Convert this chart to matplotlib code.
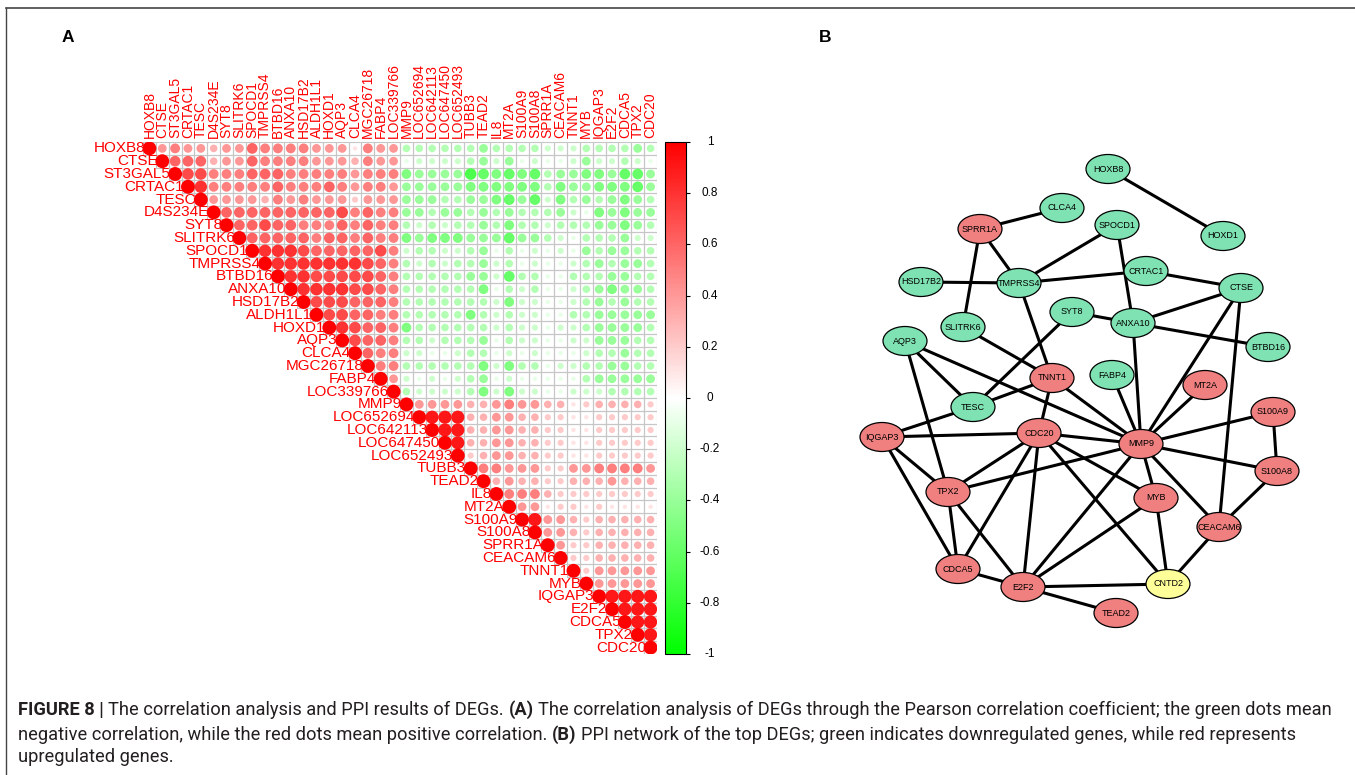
import numpy as np
import matplotlib
matplotlib.use("Agg")
import matplotlib.pyplot as plt
from matplotlib import font_manager
from matplotlib.colors import LinearSegmentedColormap, Normalize
from matplotlib.patches import Rectangle, Ellipse
from matplotlib.collections import PatchCollection
from matplotlib.lines import Line2D
from matplotlib.transforms import blended_transform_factory

W, H = 1355, 775

# ---------------- data: panel A (Pearson r, in tenths, upper triangle incl. diagonal)
genes = ["HOXB8", "CTSE", "ST3GAL5", "CRTAC1", "TESC", "D4S234E", "SYT8", "SLITRK6",
         "SPOCD1", "TMPRSS4", "BTBD16", "ANXA10", "HSD17B2", "ALDH1L1", "HOXD1", "AQP3",
         "CLCA4", "MGC26718", "FABP4", "LOC339766", "MMP9", "LOC652694", "LOC642113",
         "LOC647450", "LOC652493", "TUBB3", "TEAD2", "IL8", "MT2A", "S100A9", "S100A8",
         "SPRR1A", "CEACAM6", "TNNT1", "MYB", "IQGAP3", "E2F2", "CDCA5", "TPX2", "CDC20"]

# row i holds r(i, j) for j = i..39
corr_rows = [
    [10, 4, 5, 4, 4, 3, 4, 4, 6, 5, 5, 5, 5, 4, 4, 4, 1, 5, 4, 4,
     -3, -3, -3, -3, -3, -3, -4, -3, -3, -3, -3, -2, -2, -2, -3, -3, -3, -3, -4, -3],
    [10, 6, 6, 6, 3, 4, 4, 6, 5, 5, 5, 5, 4, 4, 4, 3, 5, 4, 4,
     -1, -2, -2, -2, -2, -3, -4, -2, -4, -1, -2, -1, -1, -2, -4, -2, -2, -3, -2, -1],
    [10, 7, 7, 5, 5, 5, 6, 6, 6, 5, 5, 5, 5, 5, 4, 5, 5, 5,
     -5, -4, -4, -4, -4, -7, -6, -5, -6, -5, -6, -3, -4, -4, -5, -5, -4, -6, -6, -4],
    [10, 8, 5, 5, 5, 5, 5, 6, 5, 5, 5, 6, 5, 4, 5, 5, 4,
     -4, -4, -4, -4, -4, -5, -5, -5, -5, -5, -5, -3, -5, -4, -4, -5, -5, -5, -6, -4],
    [10, 4, 4, 4, 4, 3, 5, 4, 5, 4, 4, 4, 2, 4, 4, 4,
     -4, -4, -4, -3, -3, -4, -4, -5, -6, -4, -6, -2, -5, -3, -4, -3, -4, -5, -4, -3],
    [10, 6, 6, 6, 6, 6, 6, 6, 6, 6, 7, 5, 6, 5, 5,
     -4, -4, -3, -4, -4, -3, -4, -3, -4, -3, -3, -3, -4, -2, -1, -5, -4, -5, -4, -4],
    [10, 6, 6, 7, 6, 6, 5, 5, 5, 6, 5, 6, 5, 5,
     -3, -2, -3, -2, -3, -3, -4, -3, -5, -3, -3, -2, -3, -3, -3, -4, -4, -5, -4, -3],
    [10, 6, 6, 6, 6, 6, 5, 6, 6, 5, 6, 5, 5,
     -5, -4, -5, -5, -5, -4, -4, -4, -6, -4, -4, -3, -2, -1, -3, -3, -3, -4, -2, -2],
    [10, 8, 8, 8, 7, 6, 6, 6, 6, 6, 7, 5,
     -2, -3, -3, -2, -2, -3, -4, -1, -3, -1, -2, -1, -2, -1, -4, -3, -4, -4, -3, -3],
    [10, 8, 8, 8, 8, 8, 8, 8, 7, 6, 5,
     -3, -2, -3, -2, -3, -3, -4, -2, -3, -1, -2, -1, -1, -2, -3, -4, -3, -4, -4, -3],
    [10, 8, 8, 7, 7, 7, 7, 7, 6, 5,
     -3, -3, -3, -3, -3, -4, -4, -2, -6, -3, -3, -1, -1, -3, -3, -3, -4, -4, -3, -3],
    [10, 8, 8, 8, 8, 7, 7, 6, 5,
     -3, -3, -3, -3, -3, -3, -5, -1, -3, -2, -3, -1, -1, -2, -3, -4, -5, -4, -4, -3],
    [10, 7, 7, 7, 6, 6, 6, 5,
     -3, -3, -3, -3, -3, -3, -3, -2, -5, -2, -2, -1, -1, -2, -3, -4, -3, -4, -3, -3],
    [10, 7, 7, 6, 6, 5, 5,
     -3, -3, -3, -3, -3, -5, -3, -2, -3, -2, -2, -1, -1, -3, -3, -4, -4, -4, -4, -4],
    [10, 8, 7, 6, 6, 5,
     -5, -3, -3, -3, -3, -3, -3, -2, -3, -2, -2, -1, -2, -2, -3, -4, -4, -4, -4, -3],
    [10, 7, 6, 6, 5,
     -3, -3, -2, -3, -3, -3, -4, -1, -3, -2, -2, -1, -1, -2, -2, -4, -4, -4, -3, -3],
    [10, 6, 5, 5,
     -2, -2, -1, -1, -2, -3, -3, -1, -2, -1, -2, -1, -1, -1, -2, -3, -3, -4, -3, -3],
    [10, 5, 5,
     -3, -3, -3, -3, -3, -3, -5, -2, -5, -3, -3, -1, -2, -2, -3, -3, -4, -4, -3, -3],
    [10, 4,
     -2, -1, -2, -1, -2, -3, -4, -1, -2, -1, -1, -1, -1, -1, -3, -4, -4, -4, -4, -4],
    [10,
     -3, -2, -2, -2, -2, -3, -5, -2, -5, -2, -2, -1, -1, -2, -2, -2, -3, -3, -3, -3],
    [10, 4, 4, 4, 4, 3, 3, 4, 5, 4, 4, 3, 3, 1, 2, 3, 3, 3, 3, 2],
    [10, 9, 9, 9, 3, 3, 4, 4, 3, 3, 2, 2, 1, 1, 2, 2, 2, 2, 2],
    [10, 9, 9, 3, 3, 4, 4, 3, 3, 2, 2, 1, 1, 2, 2, 2, 2, 2],
    [10, 9, 3, 3, 4, 4, 3, 3, 2, 2, 1, 1, 2, 2, 2, 2, 2],
    [10, 2, 3, 4, 4, 3, 3, 2, 2, 1, 1, 2, 2, 2, 2, 2],
    [10, 5, 5, 4, 4, 4, 2, 2, 4, 4, 5, 5, 5, 5, 4],
    [10, 3, 4, 3, 3, 2, 2, 3, 3, 3, 4, 3, 3, 3],
    [10, 5, 5, 5, 3, 2, 2, 2, 2, 2, 2, 2, 2],
    [10, 4, 4, 1, 2, 2, 1, 2, 1, 1, 1, 1],
    [10, 9, 4, 4, 3, 2, 3, 3, 3, 3, 3],
    [10, 4, 4, 3, 2, 3, 3, 3, 3, 3],
    [10, 4, 2, 2, 3, 3, 3, 3, 3],
    [10, 2, 2, 3, 3, 3, 3, 3],
    [10, 2, 4, 4, 4, 4, 4],
    [10, 4, 4, 4, 4, 4],
    [10, 9, 9, 9, 9],
    [10, 9, 9, 9],
    [10, 9, 9],
    [10, 9],
    [10],
]

cbar_ticks = [1, 0.8, 0.6, 0.4, 0.2, 0, -0.2, -0.4, -0.6, -0.8, -1]

# ---------------- data: panel B (PPI network, layout in picture pixels)
node_names = ["HOXB8", "CLCA4", "SPRR1A", "SPOCD1", "HOXD1", "HSD17B2", "TMPRSS4", "CRTAC1",
              "CTSE", "SYT8", "ANXA10", "SLITRK6", "AQP3", "BTBD16", "FABP4", "TNNT1",
              "MT2A", "TESC", "S100A9", "IQGAP3", "CDC20", "MMP9", "S100A8", "TPX2",
              "MYB", "CEACAM6", "CDCA5", "E2F2", "CNTD2", "TEAD2"]
node_x = [1108, 1062, 980, 1117, 1223, 921, 1019, 1146, 1241, 1072, 1133, 963, 905, 1268,
          1112, 1052, 1205, 973, 1273, 882, 1039, 1141, 1277, 948, 1156, 1219, 958, 1023,
          1168, 1116]
node_y = [169, 208, 229, 225, 236, 282, 283, 271, 288, 312, 323, 327, 341, 347, 375, 378,
          385, 407, 412, 437, 433, 444, 471, 492, 498, 527, 569, 587, 584, 613]
node_group = ["down", "down", "up", "down", "down", "down", "down", "down", "down", "down",
              "down", "down", "down", "down", "down", "up", "up", "down", "up", "up", "up",
              "up", "up", "up", "up", "up", "up", "up", "other", "up"]
edges = [("HOXB8", "HOXD1"), ("SPRR1A", "CLCA4"), ("SPRR1A", "TMPRSS4"), ("SPRR1A", "SLITRK6"),
         ("SPOCD1", "TMPRSS4"), ("SPOCD1", "ANXA10"), ("HSD17B2", "TMPRSS4"),
         ("TMPRSS4", "CRTAC1"), ("TMPRSS4", "TNNT1"), ("CRTAC1", "CTSE"), ("CTSE", "ANXA10"),
         ("CTSE", "MMP9"), ("CTSE", "CEACAM6"), ("SYT8", "ANXA10"), ("SYT8", "TESC"),
         ("ANXA10", "BTBD16"), ("ANXA10", "MMP9"), ("SLITRK6", "TNNT1"), ("AQP3", "TESC"),
         ("AQP3", "MMP9"), ("AQP3", "TPX2"), ("TNNT1", "TESC"), ("TNNT1", "CDC20"),
         ("TNNT1", "MMP9"), ("FABP4", "MMP9"), ("MT2A", "MMP9"), ("TESC", "IQGAP3"),
         ("IQGAP3", "CDC20"), ("IQGAP3", "TPX2"), ("IQGAP3", "CDCA5"), ("CDC20", "MMP9"),
         ("CDC20", "TPX2"), ("CDC20", "CDCA5"), ("CDC20", "E2F2"), ("CDC20", "MYB"),
         ("CDC20", "CNTD2"), ("MMP9", "S100A9"), ("MMP9", "S100A8"), ("MMP9", "TPX2"),
         ("MMP9", "MYB"), ("MMP9", "CEACAM6"), ("MMP9", "E2F2"), ("S100A9", "S100A8"),
         ("S100A8", "CEACAM6"), ("TPX2", "CDCA5"), ("TPX2", "E2F2"), ("MYB", "E2F2"),
         ("MYB", "CNTD2"), ("CEACAM6", "CNTD2"), ("CDCA5", "E2F2"), ("E2F2", "CNTD2"),
         ("E2F2", "TEAD2")]

caption_lines = [
    [("FIGURE 8 |", True), ("The correlation analysis and PPI results of DEGs.", False),
     ("(A)", True), ("The correlation analysis of DEGs through the Pearson correlation "
                     "coefficient; the green dots mean", False)],
    [("negative correlation, while the red dots mean positive correlation.", False),
     ("(B)", True), ("PPI network of the top DEGs; green indicates downregulated genes, "
                     "while red represents", False)],
    [("upregulated genes.", False)],
]

# ---------------- helpers
def fx(px):
    return px / W

def fy(py):
    return 1 - py / H

def pick_font(names):
    for n in names:
        try:
            font_manager.findfont(font_manager.FontProperties(family=n), fallback_to_default=False)
            return n
        except Exception:
            continue
    return "DejaVu Sans"

base_font = pick_font(["Liberation Sans", "Arial", "DejaVu Sans"])
cap_font = pick_font(["Liberation Sans Narrow", "Roboto", "Liberation Sans"])
plt.rcParams["font.family"] = [base_font, "DejaVu Sans"]

fig = plt.figure(figsize=(W / 100, H / 100), dpi=100)
renderer = fig.canvas.get_renderer()

# frame lines (top and left)
fig.add_artist(Line2D([fx(6), 1], [fy(8), fy(8)], color="#444444", lw=1.2))
fig.add_artist(Line2D([fx(6), fx(6)], [fy(8), 0], color="#444444", lw=1.0))

fig.text(fx(68), fy(38), "A", fontsize=12.5, fontweight="bold", ha="center", va="center")
fig.text(fx(825), fy(38), "B", fontsize=12.5, fontweight="bold", ha="center", va="center")

# ---------------- panel A: correlation matrix
n = len(genes)
ax = fig.add_axes([fx(143), fy(654), 514 / W, 512 / H])
ax.set_xlim(0, n)
ax.set_ylim(n, 0)
ax.axis("off")

cmap = LinearSegmentedColormap.from_list("gwr", ["#00FF00", "#FFFFFF", "#FF0000"], N=200)

xs, ys, rs = [], [], []
cells = []
for i, row in enumerate(corr_rows):
    for k, v in enumerate(row):
        j = i + k
        xs.append(j + 0.5)
        ys.append(i + 0.5)
        rs.append(v / 10)
        cells.append(Rectangle((j, i), 1, 1))
rs = np.array(rs)

ax.add_collection(PatchCollection(cells, facecolor="none", edgecolor="#c6c6c6", linewidth=0.8))
ax.scatter(xs, ys, s=np.abs(rs) * 100, c=rs, cmap=cmap, vmin=-1, vmax=1,
           edgecolors="none", zorder=3)

for i, g in enumerate(genes):
    ax.text(i + 0.15, i + 0.5, g, color="red", fontsize=11, ha="right", va="center",
            clip_on=False)
    ax.text(i + 0.5, -0.35, g, color="red", fontsize=10, ha="center", va="bottom",
            rotation=90, clip_on=False)

cax = fig.add_axes([fx(665), fy(654), 21 / W, 512 / H])
sm = plt.cm.ScalarMappable(norm=Normalize(-1, 1), cmap=cmap)
cb = fig.colorbar(sm, cax=cax, ticks=cbar_ticks)
cb.outline.set_linewidth(0.8)
cb.ax.set_yticklabels([])
cb.ax.tick_params(length=3, width=0.8)
lab_tr = blended_transform_factory(cax.transAxes, cax.transData)
for t in cbar_ticks:
    cax.text(45 / 21, t, f"{t:g}", transform=lab_tr, fontsize=8.5, ha="center", va="center")

# ---------------- panel B: PPI network
axn = fig.add_axes([fx(840), fy(640), 480 / W, 500 / H])
axn.set_xlim(840, 1320)
axn.set_ylim(640, 140)
axn.axis("off")

pos = {nm: (x, y) for nm, x, y in zip(node_names, node_x, node_y)}
group_color = {"down": "#7fe2b2", "up": "#f08080", "other": "#ffff99"}

for a, b in edges:
    axn.plot([pos[a][0], pos[b][0]], [pos[a][1], pos[b][1]], color="black", lw=2.2,
             zorder=1, solid_capstyle="butt")

for nm, x, y, grp in zip(node_names, node_x, node_y, node_group):
    axn.add_patch(Ellipse((x, y), 44, 29, facecolor=group_color[grp], edgecolor="black",
                          linewidth=0.9, zorder=2))
    axn.text(x, y, nm, fontsize=6.5, ha="center", va="center", zorder=3)

# ---------------- caption
cap_fs = 12
probe = fig.text(0, 0, "x x", fontsize=cap_fs, family=cap_font)
probe2 = fig.text(0, 0, "xx", fontsize=cap_fs, family=cap_font)
space_w = probe.get_window_extent(renderer).width - probe2.get_window_extent(renderer).width
probe.remove()
probe2.remove()

# fit font size so line 1 spans the same width as in the reference
total = 0
tmp = []
for s, bold in caption_lines[0]:
    t = fig.text(0, 0, s, fontsize=cap_fs, family=cap_font,
                 fontweight="bold" if bold else "normal")
    total += t.get_window_extent(renderer).width
    tmp.append(t)
total += space_w * (len(caption_lines[0]) - 1)
for t in tmp:
    t.remove()
scale = min(max(1312 / total, 0.8), 1.2)
cap_fs = cap_fs * scale
space_w = space_w * scale

for line, base in zip(caption_lines, [715, 739.5, 762]):
    x = 18
    for s, bold in line:
        t = fig.text(fx(x), fy(base), s, fontsize=cap_fs, family=cap_font,
                     fontweight="bold" if bold else "normal", color="#231f20",
                     ha="left", va="baseline")
        x += t.get_window_extent(renderer).width + space_w

fig.savefig("out.png", dpi=100)
